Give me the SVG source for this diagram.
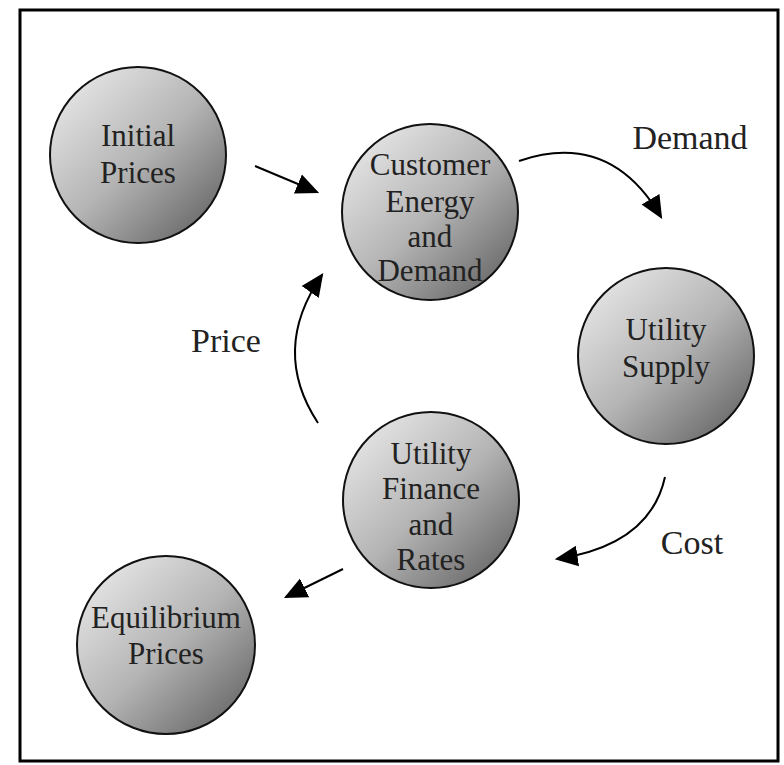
<svg xmlns="http://www.w3.org/2000/svg" width="784" height="765" viewBox="0 0 784 765">
<defs>
<linearGradient id="g" x1="0.15" y1="0.1" x2="0.9" y2="0.9">
<stop offset="0" stop-color="#e2e2e2"/>
<stop offset="0.5" stop-color="#b4b4b4"/>
<stop offset="1" stop-color="#6a6a6a"/>
</linearGradient>
<marker id="ahb" viewBox="0 0 10 10" refX="9" refY="5" markerWidth="23" markerHeight="23" markerUnits="userSpaceOnUse" orient="auto">
<path d="M0,0.5 L10,5 L0,9.5 z" fill="#000"/>
</marker>
</defs>
<style>
.n{fill:url(#g);stroke:#111;stroke-width:2}
.t{font-family:"Liberation Serif",serif;font-size:31px;fill:#222;text-anchor:middle}
.l{font-family:"Liberation Serif",serif;font-size:34px;fill:#222;text-anchor:middle}
.c{fill:none;stroke:#000;stroke-width:2;marker-end:url(#ahb)}
</style>
<rect x="20" y="10" width="758" height="751" fill="#fff" stroke="#000" stroke-width="3"/>
<g id="initial">
<circle class="n" cx="138" cy="155" r="88"/>
<text class="t" x="138" y="146">Initial</text>
<text class="t" x="138" y="183">Prices</text>
</g>
<g id="customer">
<circle class="n" cx="430" cy="212" r="88"/>
<text class="t" x="430" y="175">Customer</text>
<text class="t" x="430" y="212">Energy</text>
<text class="t" x="430" y="247">and</text>
<text class="t" x="430" y="281">Demand</text>
</g>
<g id="supply">
<circle class="n" cx="666" cy="356" r="88"/>
<text class="t" x="666" y="340">Utility</text>
<text class="t" x="666" y="377">Supply</text>
</g>
<g id="finance">
<circle class="n" cx="431" cy="500" r="88"/>
<text class="t" x="431" y="464">Utility</text>
<text class="t" x="431" y="499">Finance</text>
<text class="t" x="431" y="535">and</text>
<text class="t" x="431" y="570">Rates</text>
</g>
<g id="equilibrium">
<circle class="n" cx="166" cy="645" r="89"/>
<text class="t" x="166" y="628">Equilibrium</text>
<text class="t" x="166" y="664">Prices</text>
</g>
<g id="connectors">
<path class="c" d="M255,166 L317,192"/>
<path class="c" d="M519,161 Q610,130 661,217"/>
<path class="c" d="M318,423 Q270,350 322,275"/>
<path class="c" d="M665,477 Q650,545 557,559"/>
<path class="c" d="M343,569 L286,597"/>
</g>
<g id="labels">
<text class="l" x="690" y="149">Demand</text>
<text class="l" x="226" y="352">Price</text>
<text class="l" x="692" y="554">Cost</text>
</g>
</svg>
